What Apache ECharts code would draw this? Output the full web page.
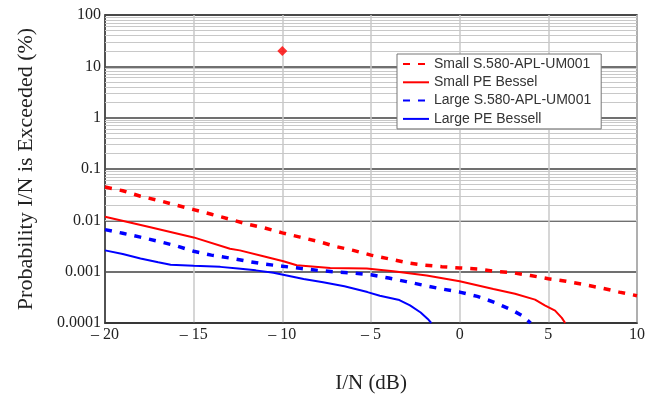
<!DOCTYPE html>
<html>
<head>
<meta charset="utf-8">
<script src="https://cdn.jsdelivr.net/npm/echarts@6/dist/echarts.min.js"></script>
<style>
  html, body { margin: 0; padding: 0; background: #fff; }
  #chart { width: 661px; height: 394px; }
</style>
</head>
<body>
<div id="chart"></div>
<script>
// Small S.580-APL-UM001 (red dashed)
const smallS580X = [-20, -19, -18, -17, -16, -15, -14, -13, -12, -11, -10, -9, -8, -7, -6, -5, -4, -3, -2, -1, 0, 1, 2, 3, 4, 5, 6, 7, 8, 9, 10];
const smallS580Y = [0.0445, 0.0377, 0.0295, 0.0245, 0.0198, 0.0162, 0.0131, 0.0106, 0.0085, 0.0071, 0.0057, 0.0047, 0.0039, 0.0031, 0.0026, 0.0021,
  0.00178, 0.0015, 0.00134, 0.00125, 0.00118, 0.00113, 0.00101, 0.00095, 0.00084, 0.00073, 0.00065, 0.00056, 0.00048, 0.0004, 0.00034];

// Small PE Bessel (red solid)
const smallPEX = [-20, -17.5, -15, -12.95, -12.4, -11.07, -9.94, -9.19, -7.3, -5.24, -3.74, -1.86, 0, 1.9, 3.12, 4.25, 4.8, 5.38, 5.76, 5.95];
const smallPEY = [0.0117, 0.0074, 0.00465, 0.0028, 0.0026, 0.002, 0.00159, 0.00133, 0.00118, 0.00115, 0.00102, 0.00084, 0.00065, 0.00046, 0.00037, 0.000285, 0.00022, 0.000174, 0.000126, 0.0001];

// Large S.580-APL-UM001 (blue dashed)
const largeS580X = [-20, -19, -18, -17, -16, -15, -14, -13, -12, -11, -10, -9, -8, -7, -6, -5, -4, -3, -2, -1, 0, 1, 2, 3, 3.5, 4];
const largeS580Y = [0.0066, 0.0056, 0.0047, 0.0039, 0.0032, 0.0025, 0.0021, 0.00185, 0.0016, 0.0014, 0.00128, 0.00116, 0.00106, 0.00099, 0.00094, 0.00087,
  0.00075, 0.00064, 0.00054, 0.00046, 0.0004, 0.00033, 0.00025, 0.000175, 0.00014, 0.0001];

// Large PE Bessell (blue solid)
const largePEX = [-20, -19, -18, -17, -16.3, -15, -13.5, -12.5, -11.5, -10.5, -9.75, -8.8, -7.7, -6.5, -5.2, -4.5, -3.4, -2.8, -2.2, -1.8, -1.6];
const largePEY = [0.0026, 0.0022, 0.0018, 0.00152, 0.00136, 0.0013, 0.00124, 0.00115, 0.00106, 0.00095, 0.00084, 0.00072, 0.00062, 0.00052, 0.0004, 0.00034, 0.00028, 0.00022, 0.00016, 0.00012, 0.0001];

// single marker
const markerX = [-10];
const markerY = [20];

const xTickValues = [-20, -15, -10, -5, 0, 5, 10];
const xTickLabels = ['\u2013 20', '\u2013 15', '\u2013 10', '\u2013 5', '0', '5', '10'];
const yTickValues = [0.0001, 0.001, 0.01, 0.1, 1, 10, 100];
const yTickLabels = ['0.0001', '0.001', '0.01', '0.1', '1', '10', '100'];
const minorSteps = [2, 3, 4, 5, 6, 7, 8, 9];

const seriesNames = ['Small S.580-APL-UM001', 'Small PE Bessel', 'Large S.580-APL-UM001', 'Large PE Bessell'];

const pairs = (xs, ys) => xs.map((x, i) => [x, ys[i]]);

const minorLines = [];
yTickValues.slice(0, -1).forEach(d => {
  minorSteps.forEach(m => minorLines.push({ yAxis: d * m }));
});

const serif = 'Liberation Serif';
const chart = echarts.init(document.getElementById('chart'));

const lineSeries = (name, data, color, dashed) => ({
  name,
  type: 'line',
  data,
  symbol: 'none',
  z: 5,
  lineStyle: dashed
    ? { color, width: 3.5, type: [7, 8] }
    : { color, width: 2 },
  itemStyle: { color }
});

chart.setOption({
  animation: false,
  grid: {
    left: 105, right: 24, top: 15, bottom: 71,
    outerBoundsMode: 'none',
    show: true, borderColor: '#333', borderWidth: 1.5
  },
  legend: {
    data: seriesNames,
    orient: 'vertical',
    left: 397, top: 54,
    z: 20,
    itemWidth: 26, itemHeight: 14, itemGap: 4.3,
    padding: [3, 10, 3, 5],
    backgroundColor: '#fff',
    borderColor: '#777', borderWidth: 1,
    itemStyle: { opacity: 0 },
    textStyle: { fontFamily: 'Liberation Sans', fontSize: 14, color: '#333' }
  },
  xAxis: {
    type: 'value',
    min: -20, max: 10, interval: 5,
    name: 'I/N (dB)',
    nameLocation: 'middle',
    nameGap: 50,
    nameTextStyle: { fontFamily: serif, fontSize: 21, color: '#222' },
    axisLine: { show: true, onZero: false, lineStyle: { color: '#333', width: 1.5 } },
    axisTick: { show: false },
    axisLabel: {
      fontFamily: serif, fontSize: 16, color: '#222', margin: 4,
      formatter: v => xTickLabels[xTickValues.indexOf(v)]
    },
    splitLine: { show: true, lineStyle: { color: '#c8c8c8', width: 1.5 } }
  },
  yAxis: {
    type: 'log',
    logBase: 10,
    min: 0.0001, max: 100,
    name: 'Probability I/N is Exceeded (%)',
    nameLocation: 'middle',
    nameGap: 68,
    nameTextStyle: { fontFamily: serif, fontSize: 22, color: '#222' },
    axisLine: { show: true, onZero: false, lineStyle: { color: '#333', width: 1.5 } },
    axisTick: { show: false },
    axisLabel: {
      fontFamily: serif, fontSize: 16, color: '#222', margin: 4,
      formatter: v => {
        const i = yTickValues.findIndex(t => Math.abs(Math.log10(t) - Math.log10(v)) < 1e-6);
        return i >= 0 ? yTickLabels[i] : '';
      }
    },
    splitLine: { show: true, lineStyle: { color: '#404040', width: 1.5 } }
  },
  series: [
    {
      name: 'minor',
      type: 'line',
      data: [],
      z: 1,
      markLine: {
        silent: true,
        symbol: 'none',
        label: { show: false },
        lineStyle: { color: '#c8c8c8', width: 1.2, type: 'solid' },
        data: minorLines
      }
    },
    lineSeries(seriesNames[0], pairs(smallS580X, smallS580Y), '#ff0000', true),
    lineSeries(seriesNames[1], pairs(smallPEX, smallPEY), '#ff0000', false),
    lineSeries(seriesNames[2], pairs(largeS580X, largeS580Y), '#0000ff', true),
    lineSeries(seriesNames[3], pairs(largePEX, largePEY), '#0000ff', false),
    {
      name: 'marker',
      type: 'scatter',
      data: pairs(markerX, markerY),
      symbol: 'diamond',
      symbolSize: 10,
      z: 6,
      itemStyle: { color: '#ff0000' }
    }
  ]
});
</script>
</body>
</html>
